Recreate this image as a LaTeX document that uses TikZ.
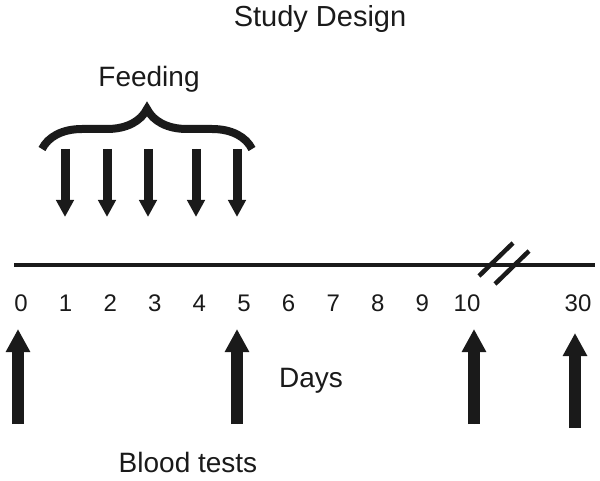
\documentclass[tikz,border=0pt]{standalone}
\usepackage{fontspec}
\setmainfont{Liberation Sans}
\usetikzlibrary{arrows.meta,decorations.pathreplacing}
\definecolor{sdInk}{HTML}{1A1A1A}
\tikzset{
  sdtext/.style={
    font=\fontsize{28}{31}\selectfont,
    text=sdInk,
    anchor=base,
    inner sep=0pt
  },
  daytick/.style={
    font=\fontsize{24}{27}\selectfont,
    text=sdInk,
    anchor=base,
    inner sep=0pt
  },
  timeline/.style={draw=sdInk, line width=4.5pt},
  feedbrace/.style={draw=sdInk, line width=8pt, decorate, decoration={brace, amplitude=40pt}},
  feedarrow/.style={-{Triangle[length=17pt,width=17pt]}, draw=sdInk, fill=sdInk, line width=9pt},
  bloodarrow/.style={-{Triangle[length=23pt,width=23pt]}, draw=sdInk, fill=sdInk, line width=12pt}
}

\begin{document}
\begin{tikzpicture}[x=1pt, y=-1pt]
  \useasboundingbox (0,0) rectangle (600,481);

  \node[sdtext, font=\fontsize{29}{32}\selectfont] (title) at (320,27) {Study Design};
  \node[sdtext] (feeding) at (149,87) {Feeding};
  \node[sdtext] (days) at (311,387) {Days};
  \node[sdtext] (blood) at (188,472) {Blood tests};

  % time axis with the break
  \coordinate (axisStart) at (14,265);
  \coordinate (axisEnd) at (595,265);
  \draw[timeline] (axisStart) -- (axisEnd);
  \coordinate (breakA1) at (479,276);
  \coordinate (breakA2) at (513,243);
  \coordinate (breakB1) at (495,284);
  \coordinate (breakB2) at (529,251);
  \draw[timeline] (breakA1) -- (breakA2);
  \draw[timeline] (breakB1) -- (breakB2);

  \foreach \d in {0,...,10}
    \node[daytick] (day\d) at ({21+44.6*\d},312) {\d};
  \node[daytick] (day30) at (578,312) {30};

  % feeding days
  \coordinate (braceLeft) at (42,149);
  \coordinate (braceRight) at (252,149);
  \draw[feedbrace] (braceLeft) -- (braceRight);
  \foreach \n/\x in {1/65,2/107,3/148,4/196,5/237} {
    \coordinate (feedTop\n) at (\x,149);
    \coordinate (feedTip\n) at (\x,217);
    \draw[feedarrow] (feedTop\n) -- (feedTip\n);
  }

  % blood tests
  \foreach \n/\x/\t/\b in {0/18/329/424,5/237/329/424,10/474/329/424,30/575/333/428} {
    \coordinate (bloodBase\n) at (\x,\b);
    \coordinate (bloodTip\n) at (\x,\t);
    \draw[bloodarrow] (bloodBase\n) -- (bloodTip\n);
  }
\end{tikzpicture}
\end{document}
